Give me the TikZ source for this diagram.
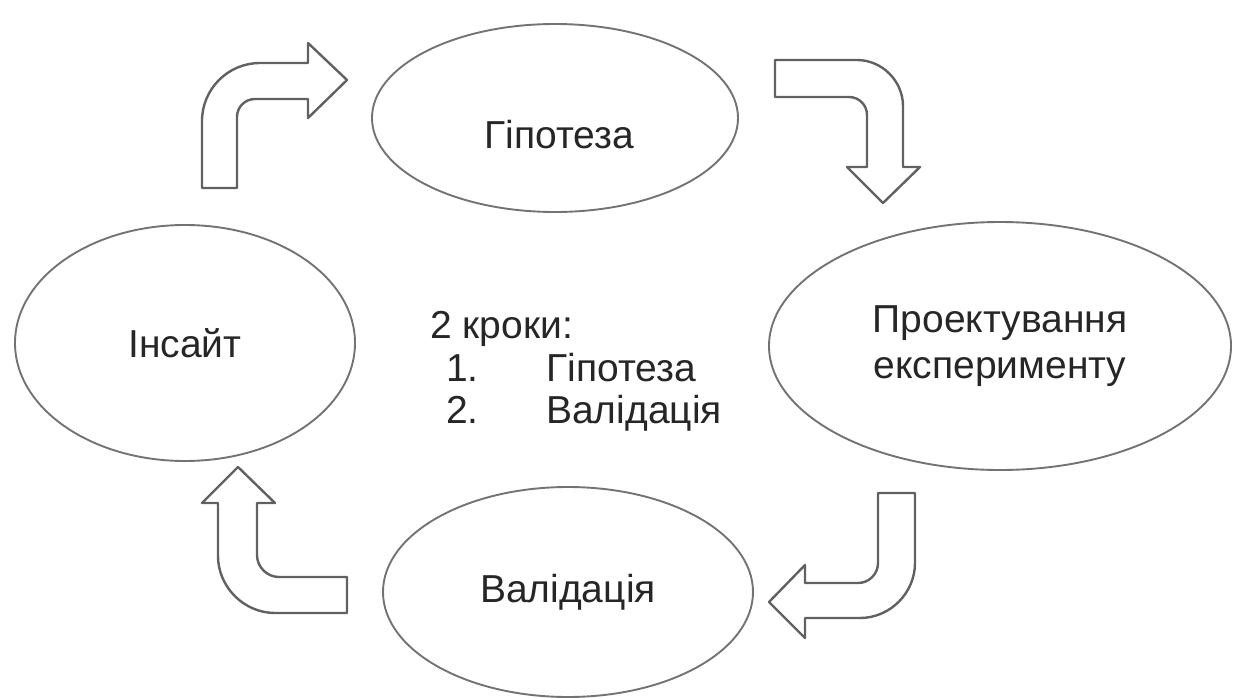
\documentclass[tikz,border=0pt]{standalone}
\usepackage{fontspec}
\setmainfont{Liberation Sans}
\usetikzlibrary{shapes.geometric}
\tikzset{
  oval/.style={ellipse, draw=black!55, line width=1.9pt, inner sep=0pt, font=\fontsize{39}{46}\selectfont, text=black!85, align=center},
  steptext/.style={anchor=base west, inner sep=0pt, font=\fontsize{39}{46}\selectfont, text=black!85},
  blockarrow/.style={draw=black!62, line width=2.4pt, fill=white, line join=round},
}
\begin{document}
\begin{tikzpicture}[x=1pt, y=-1pt]
\useasboundingbox (0,0) rectangle (1233,698);
% ellipses
\node[oval, minimum width=366pt, minimum height=188pt] (hyp) at (555,118) {};
\node[font=\fontsize{39}{46}\selectfont, text=black!85] (hypt) at (559,135) {Гіпотеза};
\node[oval, minimum width=340pt, minimum height=236pt] (ins) at (185,343) {Інсайт};
\node[oval, minimum width=462pt, minimum height=248pt, font=\fontsize{39}{46}\selectfont] (exp) at (1000,346) {Проектування\\експерименту};
\node[oval, minimum width=370pt, minimum height=210pt] (val) at (568,592) {Валідація};
% center text
\node[steptext] (s0) at (430,338) {2 кроки:};
\node[steptext] (s1n) at (446,381) {1.};
\node[steptext] (s1) at (546,381) {Гіпотеза};
\node[steptext] (s2n) at (446,423) {2.};
\node[steptext] (s2) at (546,423) {Валідація};
% arrow 1 (top-left, up then right)
\draw[blockarrow] (202,188) -- (202,121) .. controls (202,89) and (228,63) .. (260,63)
  -- (308,63) -- (308,43) -- (347,80) -- (308,118) -- (308,99) -- (255,99)
  .. controls (245,99) and (237,107) .. (237,117) -- (237,188) -- cycle;
% arrow 2 (top-right, right then down)
\draw[blockarrow] (775,60) -- (857,60) .. controls (882,60) and (903,81) .. (903,106)
  -- (903,167) -- (920,167) -- (883,203) -- (847,167) -- (867,167) -- (867,115)
  .. controls (867,105) and (859,97) .. (849,97) -- (775,97) -- cycle;
% arrow 3 (bottom-right, down then left)
\draw[blockarrow] (878,493) -- (915,493) -- (915,563) .. controls (915,593) and (890,618) .. (860,618)
  -- (805,618) -- (805,638) -- (769,602) -- (805,565) -- (805,583) -- (858,583)
  .. controls (869,583) and (878,574) .. (878,563) -- cycle;
% arrow 4 (bottom-left, left then up)
\draw[blockarrow] (238,467) -- (275,503) -- (257,503) -- (257,555)
  .. controls (257,567) and (267,577) .. (279,577) -- (347,577) -- (347,613) -- (275,613)
  .. controls (244,613) and (218,587) .. (218,556) -- (218,503) -- (202,503) -- cycle;
\end{tikzpicture}
\end{document}
